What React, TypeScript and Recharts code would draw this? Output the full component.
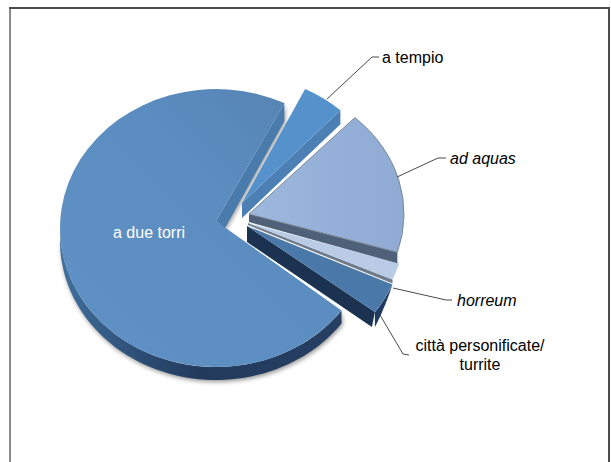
import { PieChart, Pie } from "recharts";

// ─────────────────────────────────────────
// DATA
// ─────────────────────────────────────────

const categories = ["a due torri", "città personificate", "horreum", "ad aquas", "a tempio"];
const shares = [72.1, 3.5, 1.95, 17.7, 4.75];

const data = categories.map((name, i) => ({ name, value: shares[i] }));

// ─────────────────────────────────────────
// SLICE LOOK (3D fake: ellipse faces, extruded walls)
// ─────────────────────────────────────────

const WIDTH = 611;
const HEIGHT = 462;
const CX = 216;
const CY = 228;
const RX = 156;
const RY = 139;

const LOOK = [
  {
    dx: 0, dy: 0, rx: RX, ry: RY, apex: [0, -7], face: "url(#faceBig)", stroke: "none",
    edgeWall: { fill: "#4a7bad", arc: [0, 18], tip: [9, 7] },
    rim: { fill: "url(#wallBig)", from: 13, to: 13 },
    shadow: "drop-shadow(1px 2px 2px rgba(0,0,0,0.4))",
  },
  {
    dx: 31, dy: -2, rx: 159, ry: 145, apex: [0, 0], face: "#4a78a9", stroke: "none",
    edgeWall: { fill: "#1b3250", arc: [-3, 15], tip: [0, 16] },
    rim: { fill: "#1f3b63", from: 15, to: 0 },
  },
  {
    dx: 32, dy: -5, rx: 158, ry: 140, apex: [0, 0], face: "#b9cbe5", stroke: "none",
    edgeWall: { fill: "#6f7b8a", arc: [0, 4], tip: [0, 2] },
  },
  {
    dx: 33, dy: -14, rx: 155, ry: 132, apex: [0, 0], face: "url(#faceAquas)", stroke: "#7d8998",
    edgeWall: { fill: "#4f6079", arc: [0, 11], tip: [0, 8] },
  },
  {
    dx: 26, dy: -25, rx: 144, ry: 127, apex: [0, 0], face: "#5592cc", stroke: "none",
    edgeWall: { fill: "#4c7fb3", arc: [0, 14], tip: [0, 15] },
  },
];

const LABELS = [
  { lines: ["a due torri"], x: 113, y: 238, anchor: "start", italic: false, fill: "#ffffff", leader: "" },
  {
    lines: ["città personificate/", "turrite"], x: 480, y: 351, anchor: "middle", italic: false, fill: "#000000",
    leader: "M380 315 L403 354 L409 355",
  },
  { lines: ["horreum"], x: 457, y: 306, anchor: "start", italic: true, fill: "#000000", leader: "M393 288 L446 300 L452 300" },
  { lines: ["ad aquas"], x: 450, y: 164, anchor: "start", italic: true, fill: "#000000", leader: "M397 177 L438 158 L446 158" },
  { lines: ["a tempio"], x: 382, y: 63, anchor: "start", italic: false, fill: "#000000", leader: "M327 99 L372 57 L379 57" },
];

// ─────────────────────────────────────────
// HELPERS
// ─────────────────────────────────────────

const onEllipse = (x: number, y: number, rx: number, ry: number, deg: number) => {
  const a = (deg * Math.PI) / 180;
  return [x + rx * Math.cos(a), y - ry * Math.sin(a)];
};

const fmt = (p: number[]) => `${p[0].toFixed(1)} ${p[1].toFixed(1)}`;

/**
 * Draws one slice from the angles the Pie computed: rim, side wall, then the
 * elliptical top face, each moved by the slice's explode offset.
 */
const Slice3D = (props: any) => {
  const look = LOOK[categories.indexOf(props.name)];
  const { startAngle, endAngle } = props;
  const x = props.cx + look.dx;
  const y = props.cy + look.dy;
  const tip = [x + look.apex[0], y + look.apex[1]];
  const from = onEllipse(x, y, look.rx, look.ry, startAngle);
  const to = onEllipse(x, y, look.rx, look.ry, endAngle);
  const large = endAngle - startAngle > 180 ? 1 : 0;
  // sweep 0 = counter-clockwise on screen, the way the angles grow
  const face = `M${fmt(tip)} L${fmt(from)} A${look.rx} ${look.ry} 0 ${large} 0 ${fmt(to)} Z`;

  let rimPath = "";
  if (look.rim) {
    // only the part of the rim facing the viewer (lower half of the ellipse)
    const begin = Math.max(startAngle, 180);
    const top: number[][] = [];
    const bottom: number[][] = [];
    const steps = 60;
    for (let k = 0; k <= steps; k++) {
      const t = k / steps;
      const p = onEllipse(x, y, look.rx, look.ry, begin + (endAngle - begin) * t);
      top.push(p);
      bottom.push([p[0], p[1] + look.rim.from + (look.rim.to - look.rim.from) * t]);
    }
    rimPath = "M" + top.map(fmt).join(" L") + " L" + bottom.reverse().map(fmt).join(" L") + " Z";
  }

  // wall under the slice's start edge
  const wall = look.edgeWall;
  const wallPath =
    `M${fmt(tip)} L${fmt(from)} L${fmt([from[0] + wall.arc[0], from[1] + wall.arc[1]])} ` +
    `L${fmt([tip[0] + wall.tip[0], tip[1] + wall.tip[1]])} Z`;

  return (
    <g>
      <g style={look.shadow ? { filter: look.shadow } : undefined}>
        {rimPath && <path d={rimPath} fill={look.rim.fill} />}
        <path d={wallPath} fill={wall.fill} />
      </g>
      <path d={face} fill={look.face} stroke={look.stroke} strokeWidth={1} />
    </g>
  );
};

/** Label text plus its elbow leader line. */
const SliceLabel = (props: any) => {
  const item = LABELS[categories.indexOf(props.name)];
  return (
    <g>
      {item.leader && <path d={item.leader} fill="none" stroke="#4a4a4a" strokeWidth={1} />}
      <text
        x={item.x}
        y={item.y}
        textAnchor={item.anchor as "start" | "middle"}
        fill={item.fill}
        fontStyle={item.italic ? "italic" : "normal"}
        fontFamily="'Liberation Sans', Arial, sans-serif"
        fontSize={16}
      >
        {item.lines.map((line, i) => (
          <tspan key={line} x={item.x} dy={i === 0 ? 0 : 19}>
            {line}
          </tspan>
        ))}
      </text>
    </g>
  );
};

// ─────────────────────────────────────────
// COMPONENT
// ─────────────────────────────────────────

const App = () => (
  <div style={{ position: "absolute", left: 0, top: 0, width: WIDTH, height: HEIGHT, background: "#fff", overflow: "hidden" }}>
    {/* Frame: open at the bottom, darker on top and right */}
    <div style={{ position: "absolute", left: 9, top: 7, width: 2, height: 455, background: "#8a8a8a" }} />
    <div style={{ position: "absolute", left: 9, top: 7, width: 601, height: 2, background: "#4d4d4d" }} />
    <div style={{ position: "absolute", left: 608, top: 7, width: 2, height: 455, background: "#4d4d4d" }} />

    <div style={{ position: "absolute", left: 0, top: 0 }}>
      <PieChart width={WIDTH} height={HEIGHT} margin={{ top: 0, right: 0, bottom: 0, left: 0 }}>
        <defs>
          <linearGradient id="faceBig" x1="0" y1="1" x2="1" y2="0">
            <stop offset="0%" stopColor="#5f91c6" />
            <stop offset="60%" stopColor="#5c8dc0" />
            <stop offset="100%" stopColor="#5480b0" />
          </linearGradient>
          <linearGradient id="faceAquas" x1="0" y1="0" x2="1" y2="0">
            <stop offset="0%" stopColor="#9db7dd" />
            <stop offset="100%" stopColor="#8fabd4" />
          </linearGradient>
          <linearGradient id="wallBig" x1="0" y1="0" x2="1" y2="0">
            <stop offset="0%" stopColor="#41709f" />
            <stop offset="30%" stopColor="#2b4c72" />
            <stop offset="50%" stopColor="#223a5c" />
            <stop offset="100%" stopColor="#263f62" />
          </linearGradient>
        </defs>
        <Pie
          data={data}
          dataKey="value"
          nameKey="name"
          cx={CX}
          cy={CY}
          outerRadius={RX}
          startAngle={64}
          endAngle={424}
          paddingAngle={0}
          stroke="none"
          shape={Slice3D}
          label={SliceLabel}
          labelLine={false}
          isAnimationActive={false}
        />
      </PieChart>
    </div>
  </div>
);

export default App;
